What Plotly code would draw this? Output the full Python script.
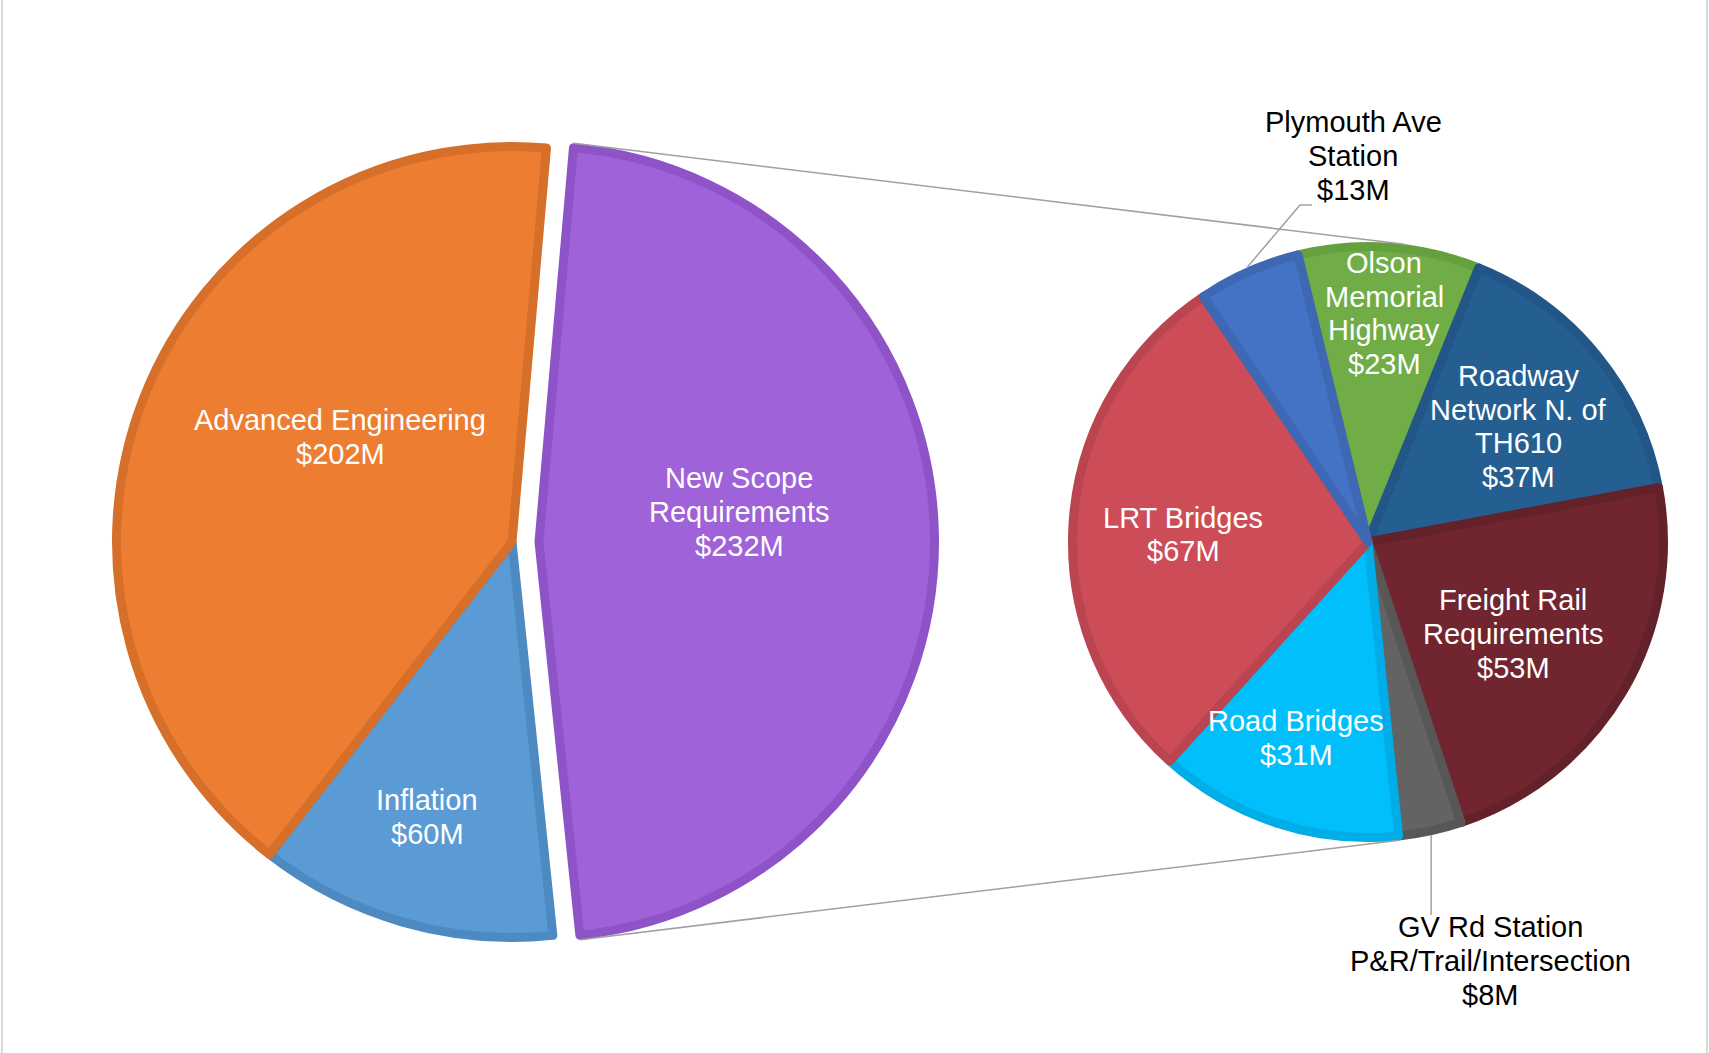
import math
import plotly.graph_objects as go

# ---------------- data ----------------
main_names = ["New Scope|Requirements", "Inflation", "Advanced Engineering"]
main_values = [232, 60, 202]

sub_names = [
    "Olson|Memorial|Highway",
    "Roadway|Network N. of|TH610",
    "Freight Rail|Requirements",
    "GV Rd Station|P&R/Trail/Intersection",
    "Road Bridges",
    "LRT Bridges",
    "Plymouth Ave|Station",
]
sub_values = [23, 37, 53, 8, 31, 67, 13]

# ---------------- style ----------------
W, H = 1709, 1053
FONT = "Liberation Sans, Arial, sans-serif"
FS = 29
LS = 33.6  # line spacing (px)
BORDER = 9

main_fill = ["#A062D9", "#5B9BD5", "#ED7D31"]
main_line = ["#8F53C8", "#4E8AC2", "#D66F2A"]
main_txt = ["white", "white", "white"]
main_pos = [(739, 512), (427, 817), (340, 437)]

sub_fill = ["#70AD47", "#255E91", "#71262F", "#636363", "#00BFFA", "#CC4D58", "#4472C4"]
sub_line = ["#65A03F", "#215686", "#63212A", "#575757", "#00ADE6", "#BA4550", "#3E68B4"]
sub_txt = ["white", "white", "white", "black", "white", "white", "black"]
sub_pos = [(1384, 313.5), (1518, 426.5), (1513, 634), (1490, 961),
           (1296, 738), (1183, 534.5), (1353, 156)]

C1, R1_OUT, PULL_PX, ROT1 = (512, 542), 400, 27, 5
C2, R2_OUT, ROT2 = (1368, 542), 300, -13.7
CONNECT_ANGLES = (7, 174)
GREY = "#A0A0A0"

r1 = R1_OUT - BORDER / 2
r2 = R2_OUT - BORDER / 2
pull = PULL_PX / r1


def px2paper(x, y):
    return x / W, 1 - y / H


def dom(c, half):
    x0, y1 = px2paper(c[0] - half, c[1] - half)
    x1, y0 = px2paper(c[0] + half, c[1] + half)
    return dict(x=[x0, x1], y=[y0, y1])


def pt(c, r, ang):
    a = math.radians(ang)
    return c[0] + r * math.sin(a), c[1] - r * math.cos(a)


fig = go.Figure()
fig.add_trace(go.Pie(
    values=main_values, labels=[n.replace("|", " ") for n in main_names],
    sort=False, direction="clockwise", rotation=ROT1,
    pull=[pull, 0, 0], textinfo="none", hoverinfo="label+value",
    marker=dict(colors=main_fill, line=dict(color=main_line, width=BORDER)),
    domain=dom(C1, r1 * (1 + pull)), showlegend=False,
))
fig.add_trace(go.Pie(
    values=sub_values, labels=[n.replace("|", " ") for n in sub_names],
    sort=False, direction="clockwise", rotation=ROT2,
    textinfo="none", hoverinfo="label+value",
    marker=dict(colors=sub_fill, line=dict(color=sub_line, width=BORDER)),
    domain=dom(C2, r2), showlegend=False,
))

annotations = []


def add_label(name, val, pos, color):
    lines = name.split("|") + [f"${val}M"]
    n = len(lines)
    for i, t in enumerate(lines):
        y = pos[1] + (i - (n - 1) / 2) * LS
        px, py = px2paper(pos[0], y)
        annotations.append(dict(
            x=px, y=py, xref="paper", yref="paper", text=t, showarrow=False,
            xanchor="center", yanchor="middle",
            font=dict(family=FONT, size=FS, color=color)))


for nm, v, p, c in zip(main_names, main_values, main_pos, main_txt):
    add_label(nm, v, p, c)
for nm, v, p, c in zip(sub_names, sub_values, sub_pos, sub_txt):
    add_label(nm, v, p, c)

shapes = []


def line(p0, p1, color=GREY, width=1.5):
    x0, y0 = px2paper(*p0)
    x1, y1 = px2paper(*p1)
    shapes.append(dict(type="line", xref="paper", yref="paper",
                       x0=x0, y0=y0, x1=x1, y1=y1,
                       line=dict(color=color, width=width)))


# connector lines from exploded slice to secondary pie
tot1 = sum(main_values)
a0 = ROT1
a1 = ROT1 + main_values[0] / tot1 * 360
mid = (a0 + a1) / 2
off = pt((0, 0), PULL_PX, mid)
cs = (C1[0] + off[0], C1[1] + off[1])
line(pt(cs, R1_OUT, a0), pt(C2, R2_OUT, CONNECT_ANGLES[0]))
line(pt(cs, R1_OUT, a1), pt(C2, R2_OUT, CONNECT_ANGLES[1]))

# leader lines for outside labels
tot2 = sum(sub_values)
ang = ROT2
mids = []
for v in sub_values:
    mids.append(ang + v / tot2 * 180)
    ang += v / tot2 * 360
ply = pt(C2, R2_OUT, mids[6])
line(ply, (1300, 205))
line((1300, 205), (1312, 205))
gv = pt(C2, R2_OUT, mids[3])
line(gv, (gv[0], 915))

# chart-area frame edges
line((2, 0), (2, H), color="#D9D9D9", width=2)
line((1707, 0), (1707, H), color="#D9D9D9", width=2)

fig.update_layout(
    width=W, height=H, margin=dict(l=0, r=0, t=0, b=0),
    paper_bgcolor="white", plot_bgcolor="white",
    annotations=annotations, shapes=shapes, showlegend=False,
)

fig.write_html("out.html", config={"displayModeBar": False},
               post_script="document.body.style.margin='0';document.body.style.overflow='hidden';")
